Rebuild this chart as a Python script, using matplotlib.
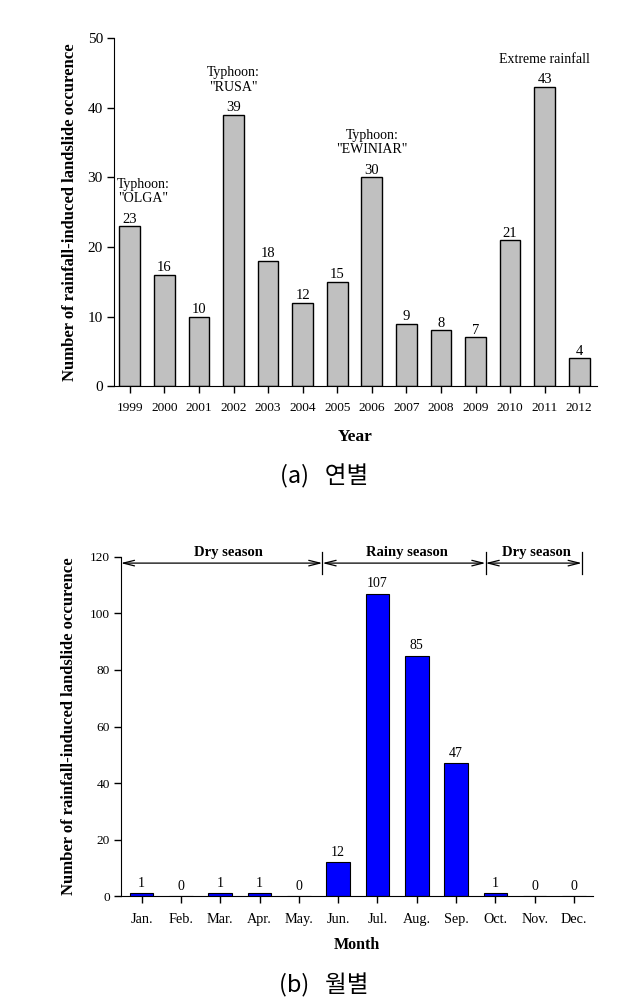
import matplotlib
matplotlib.use("Agg")
import matplotlib.pyplot as plt
import numpy as np

years = ["1999", "2000", "2001", "2002", "2003", "2004", "2005", "2006",
         "2007", "2008", "2009", "2010", "2011", "2012"]
year_counts = [23, 16, 10, 39, 18, 12, 15, 30, 9, 8, 7, 21, 43, 4]
year_notes = {0: 'Typhoon:\n"OLGA"', 3: 'Typhoon:\n"RUSA"', 7: 'Typhoon:\n"EWINIAR"', 12: 'Extreme rainfall'}

months = ["Jan.", "Feb.", "Mar.", "Apr.", "May.", "Jun.", "Jul.", "Aug.",
          "Sep.", "Oct.", "Nov.", "Dec."]
month_counts = [1, 0, 1, 1, 0, 12, 107, 85, 47, 1, 0, 0]
seasons = ["Dry season", "Rainy season", "Dry season"]
season_bounds = [-0.53, 4.6, 8.75, 11.2]
season_label_x = [2.2, 6.75, 10.05]

serif = ["Liberation Serif", "DejaVu Serif"]
plt.rcParams["font.family"] = serif
ylab = "Number of rainfall-induced landslide occurence"

fig = plt.figure(figsize=(6.26, 9.98), dpi=100)

# ---------- (a) yearly ----------
ax1 = fig.add_axes([0.182, 0.613, 0.772, 0.349])
x1 = np.arange(len(years))
ax1.bar(x1, year_counts, width=0.6, color="#c0c0c0", edgecolor="black", linewidth=1.0)
for xi, v in zip(x1, year_counts):
    ax1.text(xi, v + 0.05, str(v), ha="center", va="bottom", fontsize=10.5)
for i, note in year_notes.items():
    dx = 0.38 if i == 0 else 0.0
    ax1.text(x1[i] + dx, year_counts[i] + 3.0, note, ha="center", va="bottom", fontsize=10,
             linespacing=1.15)
ax1.set_xlim(-0.46, 13.52)
ax1.set_ylim(0, 50)
ax1.set_yticks(range(0, 51, 10))
ax1.set_xticks(x1)
ax1.set_xticklabels(years, fontsize=9.6)
ax1.tick_params(axis="y", labelsize=11, direction="out", length=5, width=1, pad=3)
ax1.tick_params(axis="x", direction="out", length=5, width=1, pad=6)
ax1.spines["top"].set_visible(False)
ax1.spines["right"].set_visible(False)
ax1.set_xlabel("Year", fontsize=12.5, fontweight="bold", labelpad=11)
ax1.set_ylabel(ylab, fontsize=12, fontweight="bold", labelpad=7)
fig.text(0.517, 0.523, "(a)   연별", ha="center", va="center", fontsize=17,
         family=["Noto Sans CJK KR", "DejaVu Sans"])

# ---------- (b) monthly ----------
ax2 = fig.add_axes([0.193, 0.102, 0.754, 0.340])
x2 = np.arange(len(months))
ax2.bar(x2, month_counts, width=0.6, color="#0000ff", edgecolor="black", linewidth=0.8)
for xi, v in zip(x2, month_counts):
    ax2.text(xi, v + 1.3, str(v), ha="center", va="bottom", fontsize=10)
ax2.set_xlim(-0.53, 11.48)
ax2.set_ylim(0, 120)
ax2.set_yticks(range(0, 121, 20))
ax2.set_xticks(x2)
ax2.set_xticklabels(months, fontsize=10.3)
ax2.tick_params(axis="y", labelsize=9.6, direction="out", length=5, width=1, pad=3)
ax2.tick_params(axis="x", direction="out", length=5, width=1, pad=7)
ax2.spines["top"].set_visible(False)
ax2.spines["right"].set_visible(False)
ax2.set_xlabel("Month", fontsize=11.5, fontweight="bold", labelpad=8)
ax2.set_ylabel(ylab, fontsize=12, fontweight="bold", labelpad=9)

ya = 117.8
for k, name in enumerate(seasons):
    a, b = season_bounds[k], season_bounds[k + 1]
    ax2.annotate("", xy=(a, ya), xytext=(b, ya),
                 arrowprops=dict(arrowstyle="<->,head_length=0.8,head_width=0.2",
                                 color="black", lw=0.9, shrinkA=0, shrinkB=0),
                 annotation_clip=False)
    ax2.text(season_label_x[k], ya + 1.6, name, ha="center", va="bottom", fontsize=10.5,
             fontweight="bold", clip_on=False)
for b in season_bounds[1:]:
    ax2.plot([b, b], [ya - 4, ya + 4], color="black", lw=0.9, clip_on=False)

fig.text(0.517, 0.013, "(b)   월별", ha="center", va="center", fontsize=17,
         family=["Noto Sans CJK KR", "DejaVu Sans"])

fig.savefig("out.png", dpi=100)
